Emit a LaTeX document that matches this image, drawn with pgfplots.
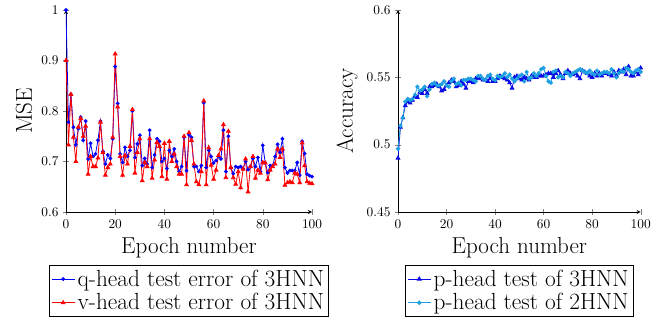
\documentclass[border=0pt]{standalone}
\usepackage{pgfplots}
\pgfplotsset{compat=1.18}
\usepackage{pgfplotstable}
\definecolor{lblue}{RGB}{30,160,225}
\definecolor{dblue}{RGB}{10,10,230}
\pgfplotstableread{
x q v
0 1.000 0.900
1 0.778 0.733
2 0.833 0.833
3 0.768 0.748
4 0.733 0.700
5 0.765 0.768
6 0.788 0.785
7 0.742 0.750
8 0.780 0.770
9 0.705 0.675
10 0.736 0.710
11 0.710 0.690
12 0.715 0.690
13 0.742 0.707
14 0.780 0.778
15 0.720 0.718
16 0.695 0.673
17 0.713 0.688
18 0.706 0.695
19 0.745 0.748
20 0.888 0.913
21 0.815 0.808
22 0.715 0.710
23 0.698 0.673
24 0.728 0.712
25 0.710 0.695
26 0.722 0.730
27 0.800 0.803
28 0.708 0.677
29 0.735 0.718
30 0.752 0.745
31 0.692 0.662
32 0.706 0.698
33 0.695 0.690
34 0.762 0.745
35 0.688 0.667
36 0.713 0.703
37 0.745 0.738
38 0.740 0.730
39 0.700 0.670
40 0.706 0.736
41 0.686 0.665
42 0.722 0.740
43 0.710 0.700
44 0.725 0.715
45 0.700 0.690
46 0.680 0.675
47 0.690 0.675
48 0.748 0.750
49 0.682 0.654
50 0.753 0.757
51 0.748 0.742
52 0.690 0.695
53 0.690 0.660
54 0.680 0.654
55 0.692 0.680
56 0.816 0.820
57 0.688 0.654
58 0.722 0.727
59 0.710 0.693
60 0.697 0.665
61 0.702 0.683
62 0.710 0.712
63 0.705 0.725
64 0.762 0.773
65 0.680 0.668
66 0.750 0.760
67 0.688 0.688
68 0.676 0.668
69 0.690 0.655
70 0.688 0.680
71 0.690 0.648
72 0.686 0.685
73 0.700 0.705
74 0.684 0.640
75 0.690 0.690
76 0.706 0.710
77 0.690 0.667
78 0.708 0.683
79 0.680 0.677
80 0.732 0.698
81 0.697 0.697
82 0.678 0.664
83 0.692 0.683
84 0.692 0.690
85 0.710 0.695
86 0.734 0.725
87 0.718 0.708
88 0.745 0.725
89 0.688 0.653
90 0.677 0.658
91 0.682 0.660
92 0.682 0.658
93 0.682 0.677
94 0.698 0.675
95 0.673 0.658
96 0.740 0.737
97 0.716 0.692
98 0.675 0.660
99 0.672 0.657
100 0.670 0.656
}\mse
\pgfplotstableread{
x a b
0 0.490 0.497
1 0.513 0.514
2 0.520 0.520
3 0.529 0.532
4 0.532 0.534
5 0.531 0.533
6 0.533 0.534
7 0.536 0.537
8 0.535 0.543
9 0.539 0.540
10 0.538 0.541
11 0.541 0.543
12 0.538 0.536
13 0.543 0.541
14 0.543 0.545
15 0.544 0.546
16 0.545 0.544
17 0.543 0.544
18 0.540 0.545
19 0.541 0.547
20 0.544 0.544
21 0.546 0.543
22 0.548 0.547
23 0.547 0.549
24 0.543 0.545
25 0.544 0.546
26 0.547 0.544
27 0.545 0.548
28 0.542 0.548
29 0.547 0.549
30 0.547 0.549
31 0.546 0.548
32 0.549 0.547
33 0.550 0.551
34 0.549 0.551
35 0.548 0.549
36 0.548 0.548
37 0.547 0.551
38 0.549 0.552
39 0.547 0.549
40 0.547 0.548
41 0.549 0.551
42 0.551 0.550
43 0.550 0.551
44 0.549 0.553
45 0.548 0.550
46 0.546 0.552
47 0.542 0.549
48 0.550 0.547
49 0.551 0.549
50 0.549 0.551
51 0.548 0.552
52 0.550 0.547
53 0.549 0.554
54 0.548 0.549
55 0.551 0.550
56 0.550 0.553
57 0.550 0.551
58 0.551 0.553
59 0.551 0.556
60 0.551 0.557
61 0.552 0.551
62 0.553 0.547
63 0.553 0.546
64 0.550 0.554
65 0.553 0.555
66 0.555 0.550
67 0.552 0.551
68 0.549 0.550
69 0.553 0.554
70 0.555 0.553
71 0.553 0.551
72 0.552 0.553
73 0.553 0.554
74 0.551 0.555
75 0.549 0.556
76 0.555 0.555
77 0.554 0.554
78 0.553 0.553
79 0.551 0.555
80 0.550 0.553
81 0.553 0.552
82 0.551 0.555
83 0.553 0.552
84 0.551 0.553
85 0.553 0.554
86 0.553 0.554
87 0.552 0.553
88 0.551 0.556
89 0.554 0.553
90 0.551 0.550
91 0.555 0.553
92 0.554 0.555
93 0.556 0.554
94 0.552 0.557
95 0.558 0.556
96 0.551 0.554
97 0.551 0.553
98 0.554 0.555
99 0.552 0.556
100 0.557 0.554
}\acc
\begin{document}
\begin{tikzpicture}
\pgfplotsset{
  every axis/.append style={
    scale only axis,
    axis lines=left,
    height=151.5pt,
    xmin=0, xmax=100,
    xtick={0,20,40,60,80,100},
    label style={font=\LARGE},
    legend style={at={(0.5,-0.262)}, anchor=north, font=\fontsize{17.5}{20}\selectfont, draw=black, row sep=0pt, inner sep=1.5pt},
    legend cell align=left,
  }
}
\begin{axis}[
  width=184.5pt,
  ymin=0.6, ymax=1,
  ytick={0.6,0.7,0.8,0.9,1},
  xlabel={Epoch number},
  ylabel={MSE},
]
\addplot[blue, semithick, mark=*, mark size=1.1pt] table[x=x,y=q]{\mse};
\addlegendentry{q-head test error of 3HNN}
\addplot[red, semithick, mark=triangle*, mark size=1.6pt] table[x=x,y=v]{\mse};
\addlegendentry{v-head test error of 3HNN}
\end{axis}
\begin{axis}[
  at={(249pt,0pt)},
  width=182pt,
  ymin=0.45, ymax=0.6,
  ytick={0.45,0.5,0.55,0.6},
  yticklabel style={/pgf/number format/fixed, /pgf/number format/precision=2},
  xlabel={Epoch number},
  ylabel={Accuracy},
]
\addplot[dblue, semithick, mark=triangle*, mark size=1.6pt] table[x=x,y=a]{\acc};
\addlegendentry{p-head test of 3HNN}
\addplot[lblue, semithick, mark=*, mark size=1.3pt] table[x=x,y=b]{\acc};
\addlegendentry{p-head test of 2HNN}
\end{axis}
\pgfresetboundingbox
\useasboundingbox (-49.5pt,-81.75pt) rectangle (440.25pt,159pt);
\end{tikzpicture}
\end{document}
